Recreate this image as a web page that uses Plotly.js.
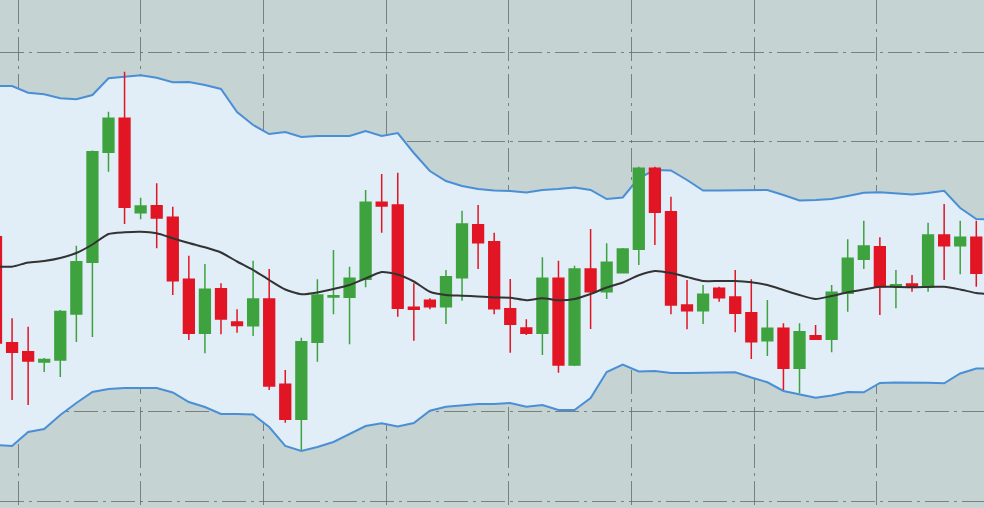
<!DOCTYPE html>
<html>
<head>
<meta charset="utf-8">
<script src="https://cdn.plot.ly/plotly-3.0.1.min.js"></script>
<style>html,body{margin:0;padding:0;background:#c5d4d3;}#chart{width:984px;height:508px;}</style>
</head>
<body>
<div id="chart"></div>
<script>
// Session index of each period (the last one sits just past the right edge)
const periods = [0,1,2,3,4,5,6,7,8,9,10,11,12,13,14,15,16,17,18,19,20,21,22,23,24,25,26,27,28,29,30,31,32,33,34,35,36,37,38,39,40,41,42,43,44,45,46,47,48,49,50,51,52,53,54,55,56,57,58,59,60,61,62];

const openV  = [271.3,165.3,156.3,146,148,194,245.7,355.7,389.7,295.3,302.3,290.7,228.7,174.7,219.3,186,182.3,209,123.7,88.7,165.7,211,210.7,228.7,305.7,303,200.7,207.7,201.3,230.3,283.3,266.3,199.3,180,174.7,229.7,143,239,216.3,235.3,258.7,339.7,296.3,203,197.3,219.7,211,195.3,167.3,179.7,139.7,172.3,168.7,214.7,248.7,261.3,221.3,224,220.7,273,262.3,270.7];
const highV  = [276,189.7,181.3,150,198,262.3,357.5,396.3,436.3,310.3,324.7,301.3,252.3,244,224.7,198.7,247.3,239,138,170.3,228.7,258,241.3,318,334,335.3,224.7,209.7,238,297.3,303,275.3,229,188.7,250.7,247.3,242.3,279,264.7,260,341.3,341.3,311.3,228,223,221.3,238,228.7,208,184.7,184.7,183,223,268.7,287.3,270.7,238,233,285.3,304,287.3,287.3];
const lowV   = [158,108,103,136,131,166,171,336.3,284,288.7,259.7,213,168,154.7,173.7,175.3,172,118,85.3,58,146.3,193.7,163.7,220.7,275.3,191.3,167.3,198.7,184,207.3,239,193.7,155.3,173,153,135.3,142,179,209,234.5,243,263,193.7,178.7,184,206.3,175.7,149,152,118,114.7,168,155.7,196.3,239,193,199.7,216.3,216.3,228,233.7,221.3];
const closeV = [165,155.7,147,148.5,196.5,246.3,356.3,389.7,300.7,302,290,227.3,174.7,218.7,189,182.5,209,122,88.7,166.3,213,212.3,229.7,305.7,302,199.7,198.7,201.3,231.3,284,265.3,199.3,183.7,174.7,229.7,143,239,216.3,245.7,259,339.7,295.7,203,197.3,213.7,210.3,194.7,166.3,179.7,139.7,176.3,168.7,215.7,249.7,262,221.3,223.3,220.7,273,262.3,270.7,234.7];

// Bollinger bands
const upperBand  = [422,422,415.3,413.7,409.7,408.7,413,429.7,431.3,432.7,430.3,425.7,426,423,419,396,383,374,376,371,372,372,372,377,372,375,355,337,327,322,319,317.5,317,315.5,318,319,320.5,318,309,310.5,330,338,337.5,328,317.5,317.5,317.5,317.5,318,313,307.5,308,309,312,315.3,315.7,314.5,313.5,315,317.3,300,289,288.5];
const middleBand = [241.5,241.3,245.5,247,250,255,263.5,274,275.7,276.3,274.7,269.7,265,260.7,255.5,246.5,238,228,218.5,213.7,215.5,219,223,229.5,236,233.5,226.5,216.3,213,212.3,211.5,210.5,210.3,207.7,209.7,207.7,209,214,220.5,225.5,232.7,237,235,231,227,227,227,225.7,223,218,213,209,212,215.7,218.5,221.3,221,220.7,221,221.3,218.5,215,213.5];
const lowerBand  = [63,62,76,79,93,105,116,119,120,120.3,120,115.5,106,101,94,94,93.5,81,62,57,61,66,74,82,84.7,81.5,85,97.3,101.3,102.5,104,104,105,101.3,103,98,98,110,136,143.5,136.5,137,135,135,135.3,135.5,135.7,130.5,125.7,117,113.7,110.3,112.5,116,115.7,125,125.5,125.7,125.2,124.7,134.5,139.5,139.7];

const green = '#3ea33f';
const red = '#e11524';
const candleX = periods.slice(0, openV.length);

const traces = [
  {type:'scatter', mode:'lines', x:periods, y:lowerBand,
   line:{color:'#4a8fd6', width:2}, hoverinfo:'skip', showlegend:false},
  {type:'scatter', mode:'lines', x:periods, y:upperBand, fill:'tonexty', fillcolor:'#e1edf7',
   line:{color:'#4a8fd6', width:2}, hoverinfo:'skip', showlegend:false},
  {type:'candlestick', x:candleX, open:openV, high:highV, low:lowV, close:closeV,
   xaxis:'x2', yaxis:'y2',
   increasing:{line:{color:green, width:1.5}, fillcolor:green},
   decreasing:{line:{color:red, width:1.5}, fillcolor:red},
   whiskerwidth:0, showlegend:false},
  {type:'scatter', mode:'lines', x:periods, y:middleBand, xaxis:'x3', yaxis:'y3',
   line:{color:'#333333', width:2, shape:'spline', smoothing:0.6}, hoverinfo:'skip', showlegend:false}
];

const xRange = [0.249, 61.48];
const yRange = [0, 508];
const gridStyle = {gridcolor:'rgba(95,100,100,0.75)', gridwidth:1, griddash:'24px,5px,3px,5px'};
const hiddenAxis = {showticklabels:false, ticks:'', zeroline:false, showline:false, showgrid:false, fixedrange:true};

const layout = {
  width:984, height:508,
  margin:{l:0, r:0, t:0, b:0, pad:0},
  paper_bgcolor:'#c5d4d3', plot_bgcolor:'#c5d4d3',
  showlegend:false,
  boxgap:0.33,
  boxgroupgap:0,
  xaxis:Object.assign({range:xRange, showticklabels:false, ticks:'', zeroline:false,
    showline:false, tick0:1.388, dtick:7.63, showgrid:true, rangeslider:{visible:false}, fixedrange:true}, gridStyle),
  yaxis:Object.assign({range:yRange, showticklabels:false, ticks:'', zeroline:false,
    showline:false, tick0:7, dtick:89.8, showgrid:true, fixedrange:true}, gridStyle),
  xaxis2:Object.assign({range:xRange, overlaying:'x', rangeslider:{visible:false}}, hiddenAxis),
  yaxis2:Object.assign({range:yRange, overlaying:'y'}, hiddenAxis),
  xaxis3:Object.assign({range:xRange, overlaying:'x'}, hiddenAxis),
  yaxis3:Object.assign({range:yRange, overlaying:'y'}, hiddenAxis)
};

Plotly.newPlot('chart', traces, layout, {displayModeBar:false, staticPlot:true});
</script>
</body>
</html>
